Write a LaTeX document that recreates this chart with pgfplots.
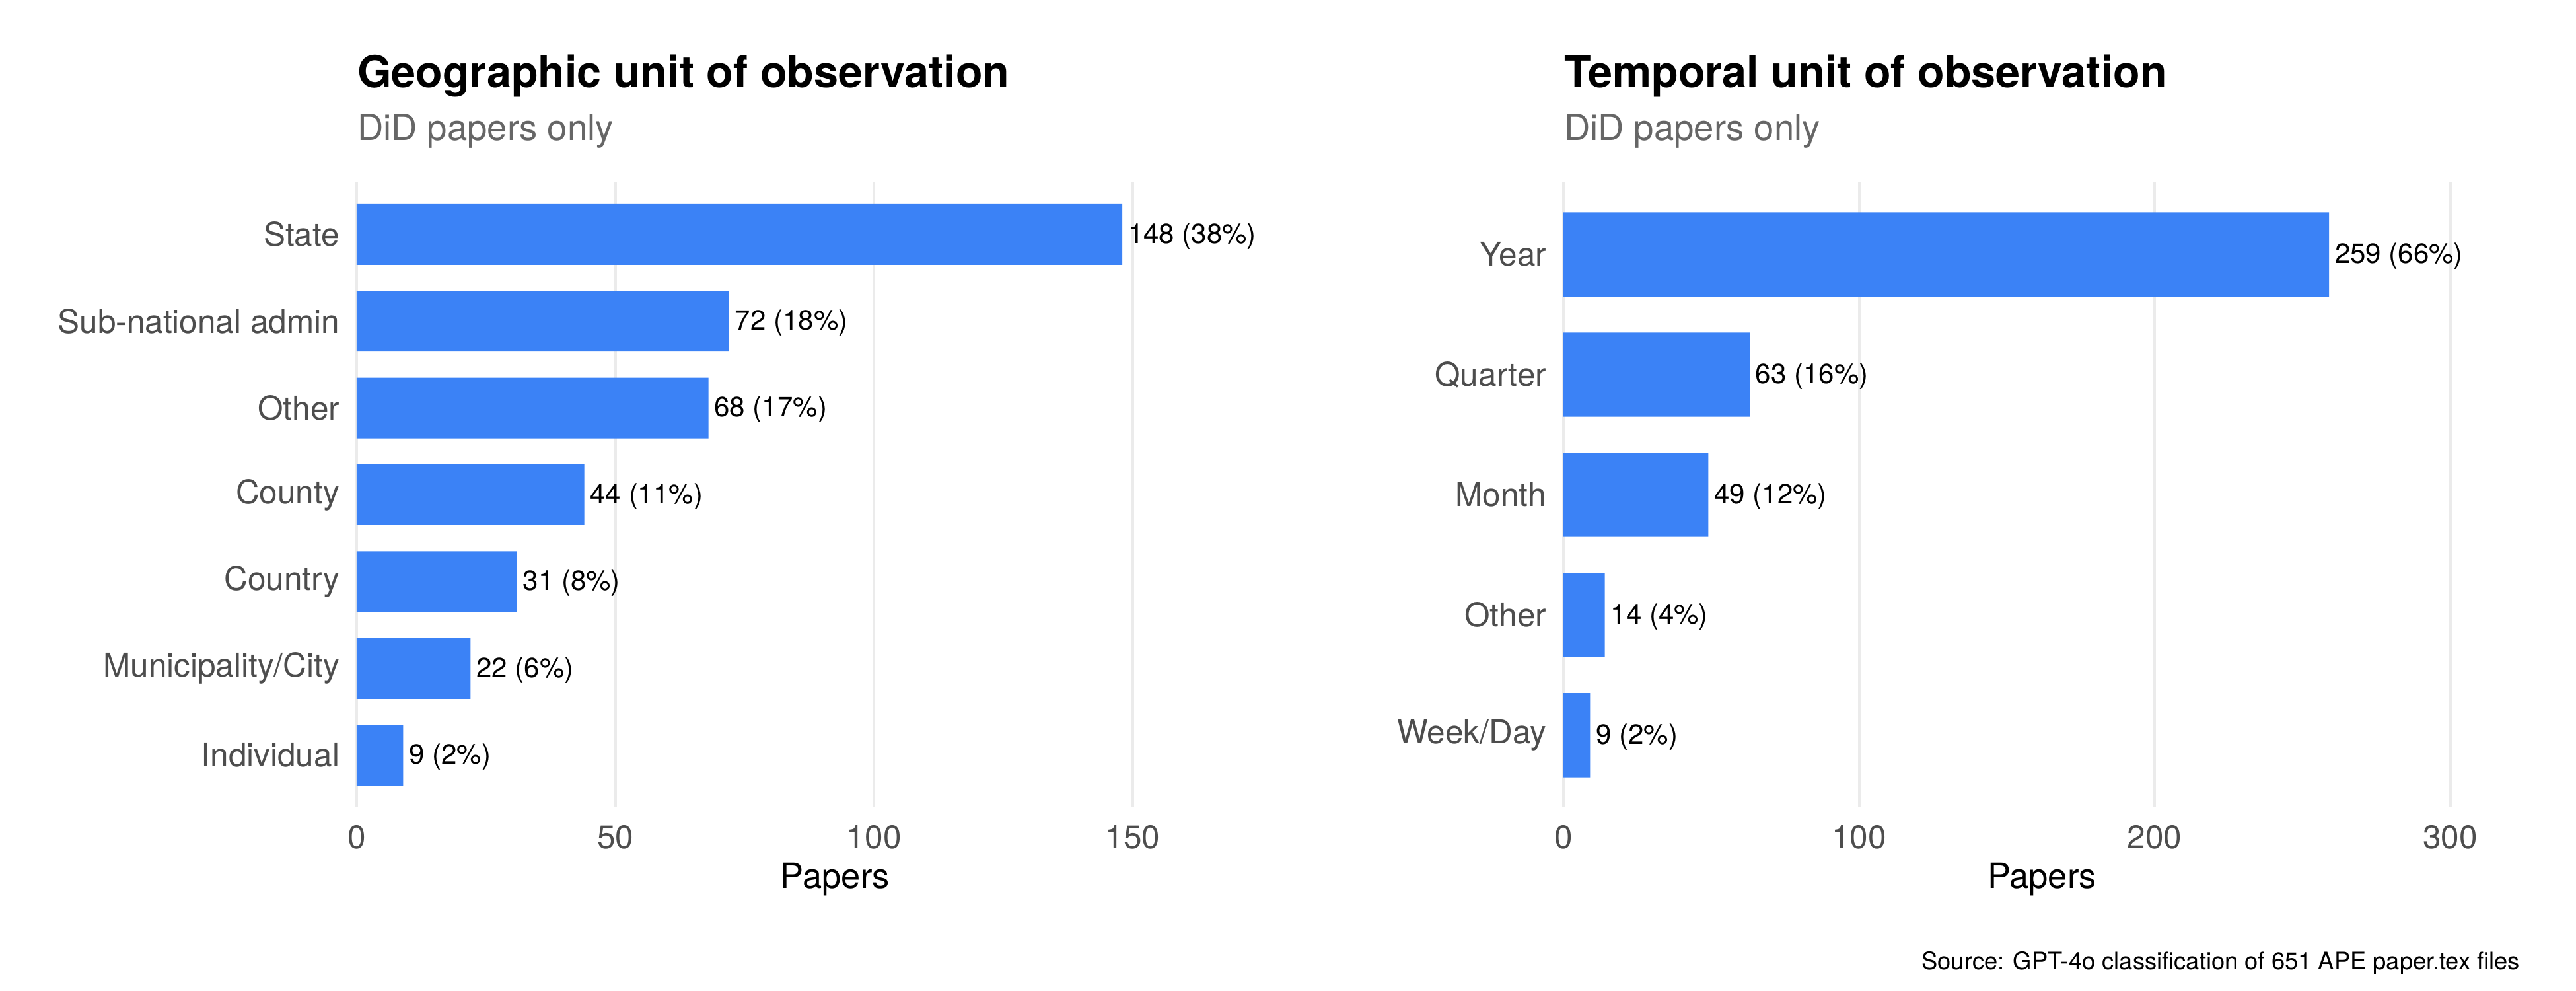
\documentclass[border=0pt]{standalone}
\usepackage{fontspec}
\setmainfont{TeX Gyre Heros}
\usepackage{pgfplots}
\pgfplotsset{compat=1.18}
\usepackage{pgfplotstable}
\definecolor{barblue}{HTML}{3B82F6}
\definecolor{gridgray}{HTML}{EBEBEB}
\definecolor{ticklab}{HTML}{4D4D4D}
\definecolor{subgray}{HTML}{666666}

\pgfplotstableread[col sep=comma]{
y,x,pct
0,9,2
1,22,6
2,31,8
3,44,11
4,68,17
5,72,18
6,148,38
}\geotable

\pgfplotstableread[col sep=comma]{
y,x,pct
0,9,2
1,14,4
2,49,12
3,63,16
4,259,66
}\temptable

\pgfplotsset{
 mybar/.style={
  scale only axis, width=289.8pt, height=189.2pt,
  xbar, bar width=0.7, xmin=0,
  axis line style={draw=none}, major tick length=0pt,
  xmajorgrids, ymajorgrids=false,
  grid style={gridgray, line width=0.8pt},
  tick label style={font=\fontsize{9.9}{11}\selectfont, text=ticklab},
  /pgf/number format/assume math mode=true,
  yticklabel style={anchor=east, inner sep=0pt, xshift=-5pt},
  xticklabel style={anchor=north, inner sep=0pt, yshift=-5.2pt},
  xlabel={Papers},
  xlabel style={at={(axis description cs:0.5,0)}, anchor=base, inner sep=0pt, yshift=-24.6pt, font=\fontsize{10.5}{12}\selectfont, text=black},
  point meta=x,
  visualization depends on={\thisrow{pct} \as \pct},
  nodes near coords={\pgfmathprintnumber[fixed,precision=0]{\pgfplotspointmeta}\ (\pgfmathprintnumber[fixed,precision=0]{\pct}\%)},
  nodes near coords style={anchor=west, inner sep=0pt, xshift=1.6pt, yshift=-0.5pt, font=\fontsize{8.4}{10}\selectfont, text=black, /pgf/number format/assume math mode=true},
 }
}

\begin{document}
\begin{tikzpicture}
\path[use as bounding box] (0,0) rectangle (780pt,300pt);

\begin{axis}[mybar, at={(108pt,55.6pt)}, anchor=south west,
  xmax=185, xtick={0,50,100,150},
  ymin=-0.6, ymax=6.6, ytick={0,...,6},
  yticklabels={Individual, Municipality/City, Country, County, Other, Sub-national admin, State}]
\addplot[fill=barblue, draw=none] table[x=x, y=y] {\geotable};
\end{axis}

\begin{axis}[mybar, at={(473.4pt,55.6pt)}, anchor=south west,
  xmax=323.75, xtick={0,100,200,300},
  ymin=-0.6, ymax=4.6, ytick={0,...,4},
  yticklabels={Week/Day, Other, Month, Quarter, Year}]
\addplot[fill=barblue, draw=none] table[x=x, y=y] {\temptable};
\end{axis}

\node[anchor=base west, inner sep=0pt, font=\fontsize{13.3}{16}\selectfont\bfseries] at (108pt,273.4pt) {Geographic unit of observation};
\node[anchor=base west, inner sep=0pt, font=\fontsize{10.9}{13}\selectfont, text=subgray] at (108pt,257.4pt) {DiD papers only};
\node[anchor=base west, inner sep=0pt, font=\fontsize{13.3}{16}\selectfont\bfseries] at (473.4pt,273.4pt) {Temporal unit of observation};
\node[anchor=base west, inner sep=0pt, font=\fontsize{10.9}{13}\selectfont, text=subgray] at (473.4pt,257.4pt) {DiD papers only};
\node[anchor=base east, inner sep=0pt, font=\fontsize{7.27}{9}\selectfont] at (763.2pt,6.4pt) {Source: GPT-4o classification of 651 APE paper.tex files};
\end{tikzpicture}
\end{document}
